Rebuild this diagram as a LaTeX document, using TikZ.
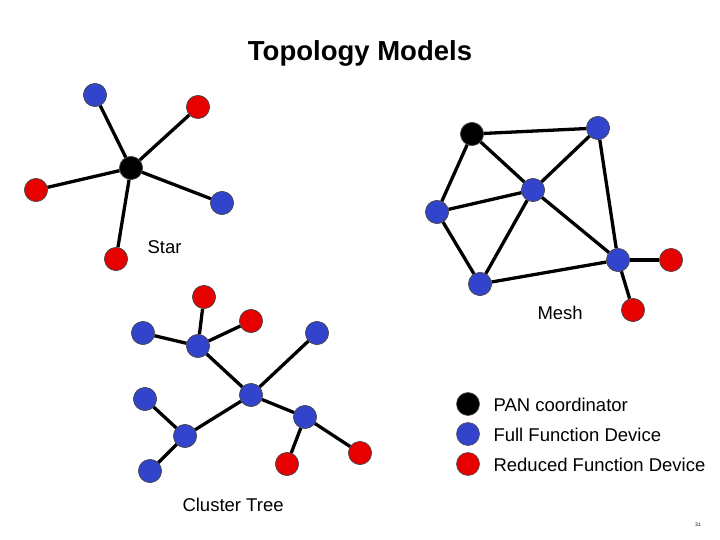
\documentclass[tikz,border=0pt]{standalone}
\usepackage{fontspec}
\setmainfont{Liberation Sans}
\begin{document}
\begin{tikzpicture}[x=1pt,y=-1pt,
 dev/.style={circle,draw=black!70,line width=0.6pt,minimum size=23pt,inner sep=0pt},
 pan/.style={dev,fill=black},
 ffd/.style={dev,fill={rgb,255:red,51;green,68;blue,204}},
 rfd/.style={dev,fill={rgb,255:red,230;green,0;blue,0}},
 link/.style={line width=3.3pt},
 lbl/.style={font=\fontsize{18.5pt}{21pt}\selectfont,anchor=west}]
\useasboundingbox (0,0) rectangle (720,540);
\node[font=\bfseries\fontsize{27.5pt}{31pt}\selectfont] (title) at (360,53) {Topology Models};
% Star
\node[pan] (sc) at (131,168) {};
\node[ffd] (s1) at (95,95) {};
\node[rfd] (s2) at (198,107) {};
\node[rfd] (s3) at (36,190) {};
\node[ffd] (s4) at (222,203) {};
\node[rfd] (s5) at (116,259) {};
\foreach \n in {s1,s2,s3,s4,s5} \draw[link] (sc) -- (\n);
\node[lbl] (starl) at (144,247) {Star};
% Mesh
\node[pan] (m1) at (472,134) {};
\node[ffd] (m2) at (598,128) {};
\node[ffd] (m3) at (533,190) {};
\node[ffd] (m4) at (437,212) {};
\node[ffd] (m5) at (618,260) {};
\node[ffd] (m6) at (480,284) {};
\node[rfd] (m7) at (671,260) {};
\node[rfd] (m8) at (633,310) {};
\foreach \a/\b in {m1/m2,m1/m3,m1/m4,m2/m3,m2/m5,m3/m4,m3/m6,m3/m5,m4/m6,m6/m5,m5/m7,m5/m8}
 \draw[link] (\a) -- (\b);
\node[lbl] (meshl) at (534,313) {Mesh};
% Tree
\node[rfd] (t1) at (204,297) {};
\node[rfd] (t2) at (251,321) {};
\node[ffd] (t3) at (143,333) {};
\node[ffd] (t4) at (198,346) {};
\node[ffd] (t5) at (317,333) {};
\node[ffd] (t6) at (251,395) {};
\node[ffd] (t7) at (145,399) {};
\node[ffd] (t8) at (305,417) {};
\node[ffd] (t9) at (185,436) {};
\node[rfd] (t10) at (287,464) {};
\node[rfd] (t11) at (360,453) {};
\node[ffd] (t12) at (150,471) {};
\foreach \a/\b in {t4/t1,t4/t2,t4/t3,t4/t6,t6/t5,t6/t9,t9/t7,t9/t12,t6/t8,t8/t10,t8/t11}
 \draw[link] (\a) -- (\b);
\node[lbl] (treel) at (179,505) {Cluster Tree};
% redraw nodes on top
\foreach \n/\s in {t1/rfd,t2/rfd,t3/ffd,t4/ffd,t5/ffd,t6/ffd,t7/ffd,t8/ffd,t9/ffd,t10/rfd,t11/rfd,t12/ffd,
 m1/pan,m2/ffd,m3/ffd,m4/ffd,m5/ffd,m6/ffd,m7/rfd,m8/rfd,sc/pan,s1/ffd,s2/rfd,s3/rfd,s4/ffd,s5/rfd}
 \node[\s] at (\n) {};
% Legend
\node[pan] (l1) at (468,404) {};
\node[ffd] (l2) at (468,434) {};
\node[rfd] (l3) at (468,464) {};
\node[lbl] (lt1) at (490,405) {PAN coordinator};
\node[lbl] (lt2) at (490,435) {Full Function Device};
\node[lbl] (lt3) at (490,465) {Reduced Function Device};
\node[font=\fontsize{5pt}{6pt}\selectfont] (pg) at (698,525) {31};
\end{tikzpicture}
\end{document}
